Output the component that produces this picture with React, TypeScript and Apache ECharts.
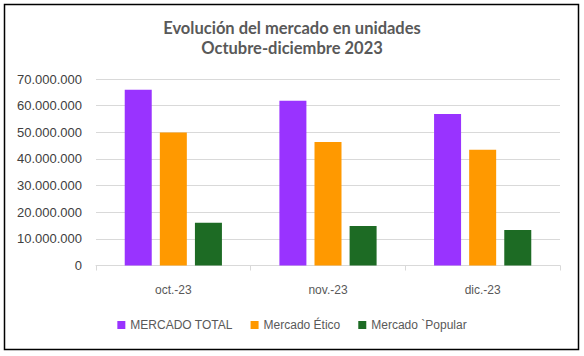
import React, { useEffect, useRef } from "react";
import * as echarts from "echarts";

const categories = ["oct.-23", "nov.-23", "dic.-23"];
const mercadoTotal = [66000000, 61800000, 56900000];
const mercadoEtico = [49900000, 46400000, 43400000];
const mercadoPopular = [16000000, 14800000, 13300000];
const seriesNames = ["MERCADO TOTAL", "Mercado Ético", "Mercado `Popular"];
const colors = ["#9933FF", "#FF9900", "#1D6B24"];

const fmt = (v: number) => String(v).replace(/\B(?=(\d{3})+(?!\d))/g, ".");
const sans = "'Liberation Sans', Arial, sans-serif";

export default function App() {
  const ref = useRef<HTMLDivElement>(null);
  useEffect(() => {
    document.body.style.margin = "0";
    const chart = echarts.init(ref.current!, null, { renderer: "svg" });
    const data = [mercadoTotal, mercadoEtico, mercadoPopular];
    chart.setOption({
      animation: false,
      backgroundColor: "#ffffff",
      title: {
        text: "Evolución del mercado en unidades\nOctubre-diciembre 2023",
        left: "center",
        top: 13,
        textStyle: {
          fontFamily: "Lato",
          fontWeight: "bold",
          fontSize: 16.5,
          lineHeight: 20,
          color: "#595959",
        },
      },
      graphic: [
        {
          type: "rect",
          shape: { x: 4.5, y: 4.5, width: 574, height: 345 },
          style: { fill: "none", stroke: "#000", lineWidth: 1.5 },
          silent: true,
        },
      ],
      legend: {
        bottom: 20,
        left: "center",
        itemWidth: 8,
        itemHeight: 8,
        itemGap: 18,
        icon: "rect",
        textStyle: { fontFamily: sans, fontSize: 12, color: "#595959" },
        data: seriesNames,
      },
      grid: { left: 96, right: 24, top: 79, bottom: 90.5, containLabel: false },
      xAxis: {
        type: "category",
        data: categories,
        axisLine: { lineStyle: { color: "#D9D9D9" } },
        axisTick: { show: true, length: 5, lineStyle: { color: "#D9D9D9" } },
        axisLabel: { fontFamily: sans, fontSize: 12, color: "#595959", margin: 18 },
      },
      yAxis: {
        type: "value",
        min: 0,
        max: 70000000,
        interval: 10000000,
        axisLine: { show: false },
        axisTick: { show: false },
        splitLine: { lineStyle: { color: "#D9D9D9" } },
        axisLabel: {
          fontFamily: sans,
          fontSize: 13,
          color: "#404040",
          margin: 14,
          formatter: (v: number) => fmt(v),
        },
      },
      series: seriesNames.map((name, i) => ({
        name,
        type: "bar",
        data: data[i],
        barWidth: 27,
        barGap: "30%",
        itemStyle: { color: colors[i] },
      })),
    });
    return () => chart.dispose();
  }, []);
  return <div ref={ref} style={{ width: 584, height: 356 }} />;
}
